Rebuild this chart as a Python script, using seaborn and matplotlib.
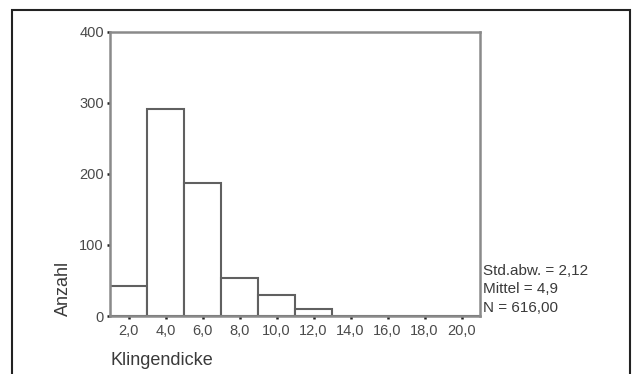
import numpy as np
import matplotlib
matplotlib.use("Agg")
import matplotlib.pyplot as plt
import seaborn as sns
from matplotlib.patches import Rectangle

# Data
bin_centers = [2.0, 4.0, 6.0, 8.0, 10.0, 12.0]
counts = [42, 291, 187, 53, 29, 10]
bin_edges = [1, 3, 5, 7, 9, 11, 13, 15, 17, 19, 21]
x_ticks = [2, 4, 6, 8, 10, 12, 14, 16, 18, 20]
x_tick_labels = ["2,0", "4,0", "6,0", "8,0", "10,0", "12,0", "14,0", "16,0", "18,0", "20,0"]
y_ticks = [0, 100, 200, 300, 400]
stats_lines = ["Std.abw. = 2,12", "Mittel = 4,9", "N = 616,00"]

sns.set_style("white")
plt.rcParams['font.family'] = ['Liberation Sans', 'DejaVu Sans']

fig = plt.figure(figsize=(6.32, 3.74), dpi=100)
ax = fig.add_axes([110/632, (374-316)/374, (480-110)/632, (316-32)/374])

sns.histplot(x=bin_centers, weights=counts, bins=bin_edges, ax=ax,
             color="white", edgecolor="#606060", linewidth=1.5, alpha=1.0)

ax.set_xlim(1, 21)
ax.set_ylim(0, 400)
ax.set_xticks(x_ticks)
ax.set_xticklabels(x_tick_labels)
ax.set_yticks(y_ticks)
ax.tick_params(axis='both', bottom=True, left=True, direction='out', length=2.5, width=1.8,
               color="#222222", labelsize=10.5, labelcolor="#4a4a4a", pad=2)
ax.tick_params(axis='x', pad=3)

for s in ax.spines.values():
    s.set_visible(True)
    s.set_color("#8a8a8a")
    s.set_linewidth(1.8)

ax.set_xlabel("Klingendicke", loc="left", fontsize=13, color="#3a3a3a", labelpad=10)
ax.set_ylabel("Anzahl", loc="bottom", fontsize=13, color="#3a3a3a", labelpad=5)

for i, line in enumerate(stats_lines):
    fig.text(483/632, 1 - (271 + 18.3*i)/374, line, fontsize=11, color="#3a3a3a",
             ha="left", va="center")

# outer frame
frame = Rectangle((12/632, -0.05), (630-12)/632, 1 - 10/374 + 0.05, transform=fig.transFigure,
                  fill=False, edgecolor="#222222", linewidth=1.5, clip_on=False)
fig.patches.append(frame)

fig.savefig("out.png", dpi=100)
